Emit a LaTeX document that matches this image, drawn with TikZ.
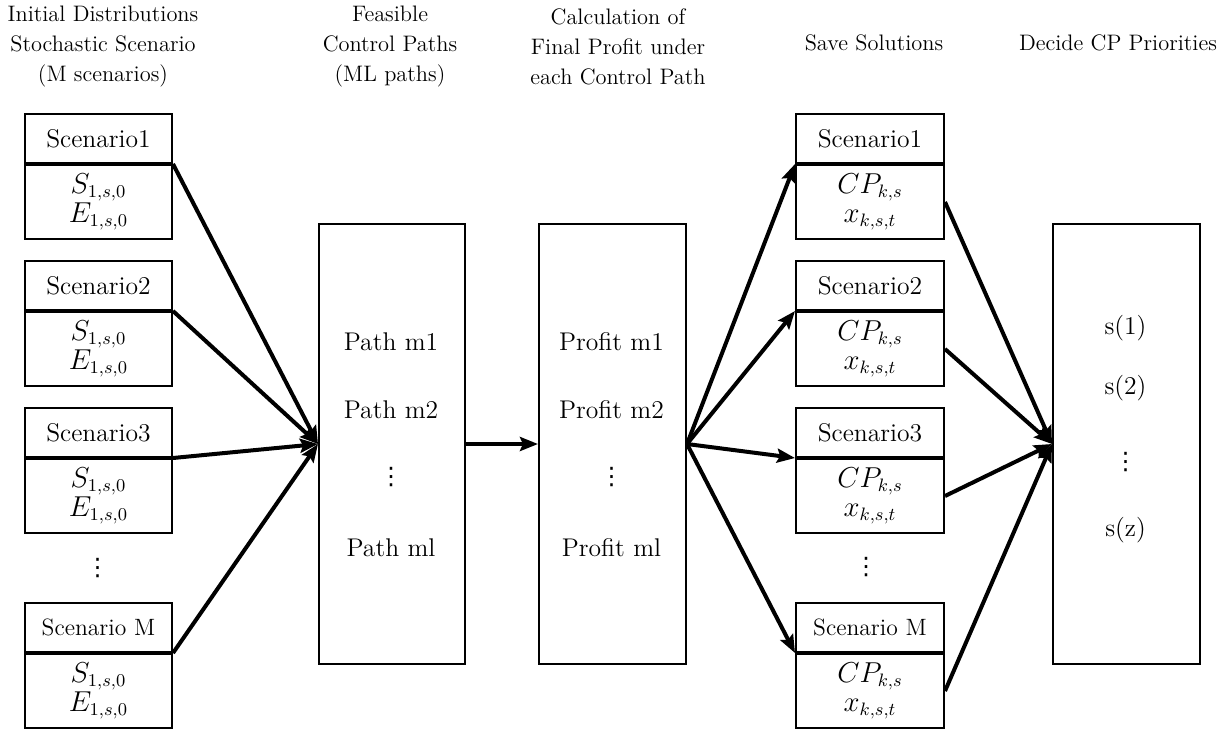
\documentclass[tikz,border=0pt]{standalone}
\usepackage{fontspec}
\newfontfamily\dejavu{DejaVu Sans}
\usetikzlibrary{arrows.meta}
\tikzset{
  boxline/.style={draw=black, line width=1pt},
  ttl/.style={boxline, anchor=north west, minimum height=24.5pt, inner sep=0pt, font=\fontsize{12.8}{15}\selectfont},
  ttlsmall/.style={ttl, font=\fontsize{11.8}{15}\selectfont},
  body/.style={boxline, anchor=north, minimum height=37pt, inner sep=0pt, align=center, font=\fontsize{13.3}{14.5}\selectfont},
  lw/.style={minimum width=73.5pt},
  rw/.style={minimum width=74pt},
  bigbox/.style={boxline, anchor=north west, minimum height=220pt, inner sep=0pt},
  lbl/.style={inner sep=0pt, font=\fontsize{12.8}{15}\selectfont},
  dotsl/.style={inner sep=0pt, font=\dejavu\fontsize{12}{12}\selectfont},
  header/.style={inner sep=0pt, align=center, font=\fontsize{11.2}{15}\selectfont},
  conn/.style={line width=2pt, -{Stealth[length=9pt,width=7pt,inset=1.5pt]}}
}
\begin{document}
\begin{tikzpicture}[x=0.5pt,y=-0.5pt]
\useasboundingbox (0,0) rectangle (1231,728);

% headers
\node[header] (h1) at (103,47) {Initial Distributions\\Stochastic Scenario\\(M scenarios)};
\node[header] (h2) at (390,47) {Feasible\\Control Paths\\(ML paths)};
\node[header] (h3) at (618,47) {Calculation of\\Final Profit under\\each Control Path};
\node[header] (h4) at (874,43) {Save Solutions};
\node[header] (h5) at (1118,43) {Decide CP Priorities};

% left scenario boxes
\node[ttl,lw] (l1t) at (24,113) {Scenario1};
\node[body,lw] (l1b) at (l1t.south) {$S_{1,s,0}$\\$E_{1,s,0}$};
\node[ttl,lw] (l2t) at (24,260) {Scenario2};
\node[body,lw] (l2b) at (l2t.south) {$S_{1,s,0}$\\$E_{1,s,0}$};
\node[ttl,lw] (l3t) at (24,407) {Scenario3};
\node[body,lw] (l3b) at (l3t.south) {$S_{1,s,0}$\\$E_{1,s,0}$};
\node[dotsl] (ldots) at (97.5,568) {⋮};
\node[ttlsmall,lw] (l4t) at (24,602) {Scenario M};
\node[body,lw] (l4b) at (l4t.south) {$S_{1,s,0}$\\$E_{1,s,0}$};

% path box
\node[bigbox, minimum width=73pt] (path) at (318,223) {};
\node[lbl] (p1) at (391,342) {Path m1};
\node[lbl] (p2) at (391,410) {Path m2};
\node[dotsl] (p3) at (391,477) {⋮};
\node[lbl] (p4) at (391,548) {Path ml};

% profit box
\node[bigbox, minimum width=73.5pt] (profit) at (538,223) {};
\node[lbl] (q1) at (611.5,342) {Profit m1};
\node[lbl] (q2) at (611.5,410) {Profit m2};
\node[dotsl] (q3) at (611.5,477) {⋮};
\node[lbl] (q4) at (611.5,548) {Profit ml};

% right scenario boxes
\node[ttl,rw] (r1t) at (795,113) {Scenario1};
\node[body,rw] (r1b) at (r1t.south) {$CP_{k,s}$\\$x_{k,s,t}$};
\node[ttl,rw] (r2t) at (795,260) {Scenario2};
\node[body,rw] (r2b) at (r2t.south) {$CP_{k,s}$\\$x_{k,s,t}$};
\node[ttl,rw] (r3t) at (795,407) {Scenario3};
\node[body,rw] (r3b) at (r3t.south) {$CP_{k,s}$\\$x_{k,s,t}$};
\node[dotsl] (rdots) at (866,567) {⋮};
\node[ttlsmall,rw] (r4t) at (795,602) {Scenario M};
\node[body,rw] (r4b) at (r4t.south) {$CP_{k,s}$\\$x_{k,s,t}$};

% final box
\node[bigbox, minimum width=73.5pt] (final) at (1052,223) {};
\node[lbl] (f1) at (1125.5,328) {s(1)};
\node[lbl] (f2) at (1125.5,388) {s(2)};
\node[dotsl] (f3) at (1125.5,462) {⋮};
\node[lbl] (f4) at (1125.5,530) {s(z)};

% connectors
\foreach \n in {l1b,l2b,l3b,l4b} \draw[conn] (\n.north east) -- (path.west);
\draw[conn] (path.east) -- (profit.west);
\foreach \n in {r1b,r2b,r3b,r4b} \draw[conn] (profit.east) -- (\n.north west);
\foreach \n in {r1b,r2b,r3b,r4b} \draw[conn] (\n.east) -- (final.west);
\end{tikzpicture}
\end{document}
